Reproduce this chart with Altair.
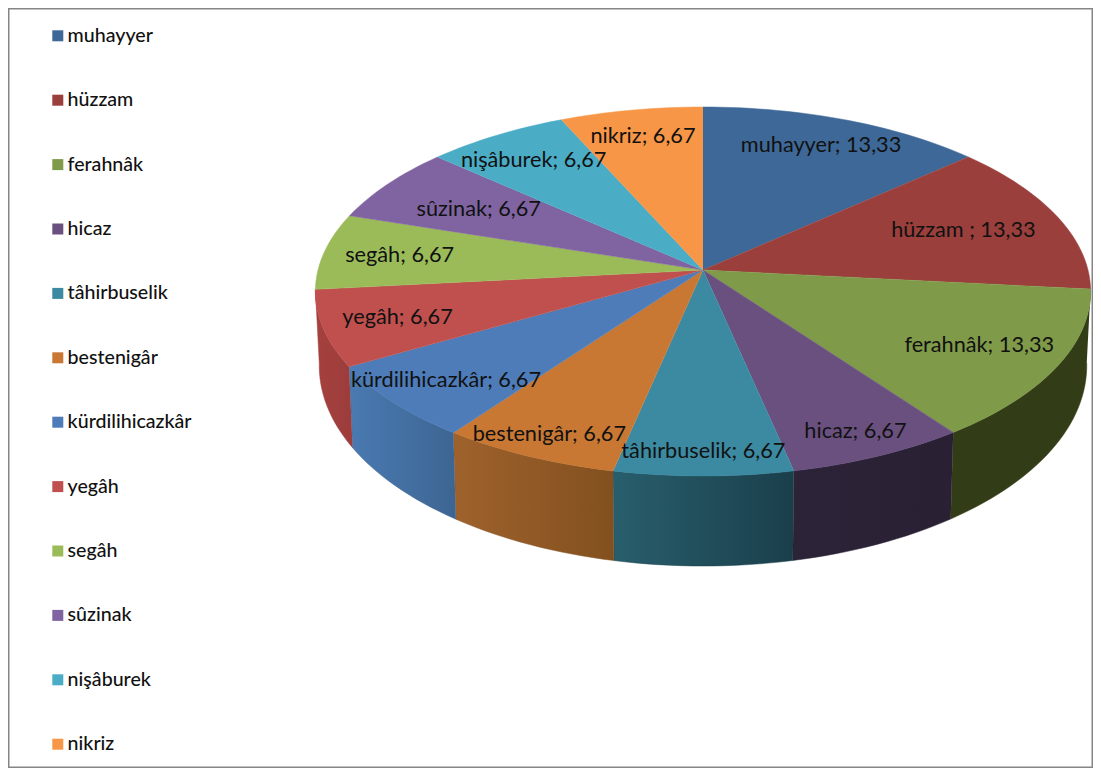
import math
import altair as alt
import pandas as pd

names = ["muhayyer", "hüzzam", "ferahnâk", "hicaz", "tâhirbuselik", "bestenigâr",
         "kürdilihicazkâr", "yegâh", "segâh", "sûzinak", "nişâburek", "nikriz"]
values = [13.33, 13.33, 13.33, 6.67, 6.67, 6.67, 6.67, 6.67, 6.67, 6.67, 6.67, 6.67]
label_names = ["muhayyer", "hüzzam ", "ferahnâk", "hicaz", "tâhirbuselik", "bestenigâr",
               "kürdilihicazkâr", "yegâh", "segâh", "sûzinak", "nişâburek", "nikriz"]
top_colors = ["#3e6897", "#9a3f3c", "#7f9a48", "#69507f", "#3b8aa1", "#c97834",
              "#4d7cb9", "#bf504e", "#9bbb59", "#8064a2", "#4bacc6", "#f79646"]
wall_colors = {
    "ferahnâk": ("#323d18", "#323d18"),
    "hicaz": ("#2d2338", "#2a2034"),
    "tâhirbuselik": ("#285e6c", "#1a3f4b"),
    "bestenigâr": ("#9f622c", "#82501f"),
    "kürdilihicazkâr": ("#4a7ab2", "#3d6592"),
    "yegâh": ("#a5413f", "#9c3d3b"),
}
label_reach = [.82, .73, .79, .88, .89, .89, .84, .81, .80, .70, .805, .82]

# Pie geometry: a circle seen in perspective
CX, CY, RX, RY, PERSP = 703, 270, 385, 182, 0.1165


def project(deg, reach=1.0):
    u, v = math.sin(math.radians(deg)) * reach, math.cos(math.radians(deg)) * reach
    den = 1 + PERSP * v
    return CX + RX * u / den, CY - RY * v / den


def project_bottom(deg):
    x, y = project(deg)
    v = math.cos(math.radians(deg))
    return CX + (x - CX) * 0.99, y + 72 - 18 * v


total = sum(values)
edges = [0.0]
for val in values:
    edges.append(edges[-1] + 360 * val / total)

top_rows, wall_rows, label_rows = [], [], []
for k, name in enumerate(names):
    a0, a1 = edges[k], edges[k + 1]
    n = max(8, int((a1 - a0) / 1.5))
    arc = [a0 + (a1 - a0) * j / n for j in range(n + 1)]
    pts = [(CX, CY)] + [project(a) for a in arc]
    for i, (x, y) in enumerate(pts):
        top_rows.append({"name": name, "i": i, "x": x, "y": y})
    if name in wall_colors:
        pts = [project(a) for a in arc] + [project_bottom(a) for a in reversed(arc)]
        for i, (x, y) in enumerate(pts):
            wall_rows.append({"name": name, "i": i, "x": x, "y": y})
    lx, ly = project((a0 + a1) / 2, label_reach[k])
    label_rows.append({"name": name, "x": lx, "y": ly,
                       "label": f"{label_names[k]}; {values[k]:.2f}".replace(".", ",")})

top_df = pd.DataFrame(top_rows)
wall_df = pd.DataFrame(wall_rows)
label_df = pd.DataFrame(label_rows)

W, H = 1085, 760
xs = alt.Scale(domain=[8, 8 + W], range=[0, W], nice=False, zero=False)
ys = alt.Scale(domain=[8, 8 + H], range=[0, H], nice=False, zero=False)
X = alt.X("x:Q", scale=xs, axis=None)
Y = alt.Y("y:Q", scale=ys, axis=None)

walls = []
for name, (c0, c1) in wall_colors.items():
    grad = alt.Gradient(gradient="linear", x1=0, y1=0, x2=1, y2=0,
                        stops=[alt.GradientStop(offset=0, color=c0),
                               alt.GradientStop(offset=1, color=c1)])
    walls.append(
        alt.Chart(wall_df[wall_df.name == name]).mark_line(fill=grad, stroke=c1, strokeWidth=0.5)
        .encode(x=X, y=Y, order="i:Q")
    )

color_scale = alt.Scale(domain=names, range=top_colors)
top = alt.Chart(top_df).mark_line(strokeWidth=0.5).encode(
    x=X, y=Y, order="i:Q",
    fill=alt.Fill("name:N", scale=color_scale, sort=names, legend=alt.Legend(
        title=None, orient="none", legendX=40, legendY=18, symbolType="square",
        symbolSize=121, symbolStrokeWidth=0,
        labelFont="Lato", labelFontSize=19.6, labelColor="#111111", labelFontWeight=500,
        labelOffset=0, rowPadding=43.4, values=names, labelLimit=300)),
    stroke=alt.Stroke("name:N", scale=color_scale, legend=None),
)

labels = alt.Chart(label_df).mark_text(font="Lato", fontSize=21.7, color="#111111",
                                       align="center", baseline="middle").encode(
    x=X, y=Y, text="label:N")

chart = alt.layer(*walls, top, labels).properties(
    width=W, height=H, padding=0,
    autosize=alt.AutoSizeParams(type="none"),
).configure_view(stroke="#858585", strokeWidth=3)

chart.save("out.html", embed_options={"renderer": "svg", "actions": False})
